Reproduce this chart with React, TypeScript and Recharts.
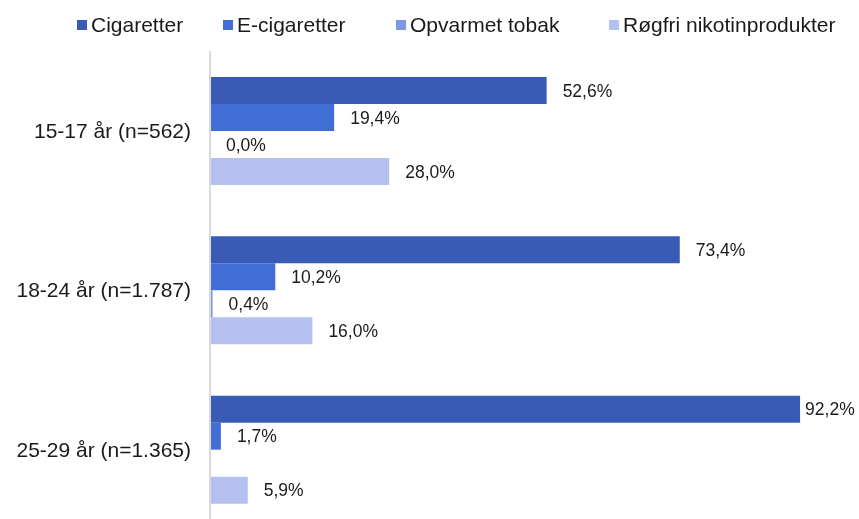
import React from "react";
import { BarChart, Bar, XAxis, YAxis, LabelList, Legend } from "recharts";

const categories = ["15-17 år (n=562)", "18-24 år (n=1.787)", "25-29 år (n=1.365)"];
const cigaretter = [52.6, 73.4, 92.2];
const eCigaretter = [19.4, 10.2, 1.7];
const opvarmetTobak = [0.0, 0.4, null];
const roegfri = [28.0, 16.0, 5.9];

const seriesNames = ["Cigaretter", "E-cigaretter", "Opvarmet tobak", "Røgfri nikotinprodukter"];
const seriesKeys = ["cig", "ecig", "opv", "rog"];
const COLORS = ["#3A5BB5", "#416DD6", "#7B97E6", "#B4C1F0"];

const data = categories.map((name, i) => ({
  name,
  cig: cigaretter[i],
  ecig: eCigaretter[i],
  opv: opvarmetTobak[i],
  rog: roegfri[i],
}));

const FONT = '"Liberation Sans", Arial, sans-serif';
const legendX = [77, 223, 396, 609];
const CHART_W = 859;

const fmt = (v: any) => (v === null || v === undefined ? "" : Number(v).toFixed(1).replace(".", ",") + "%");

// label to the right of the bar, pulled in if it would run off the edge
const renderLabel = (props: any) => {
  const { x, y, width, height, value } = props;
  if (value === null || value === undefined) return null;
  const text = fmt(value);
  const estW = text.length * 9.6;
  let tx = x + width + 16;
  if (tx + estW > CHART_W - 6) tx = x + width + 5;
  return (
    <text
      x={tx}
      y={y + height / 2}
      dominantBaseline="central"
      style={{ fontSize: 17.5, fill: "#1a1a1a", fontFamily: FONT }}
    >
      {text}
    </text>
  );
};

const CustomLegend = () => (
  <div style={{ position: "relative", width: CHART_W, height: 40, fontFamily: FONT }}>
    {seriesNames.map((name, i) => (
      <div key={name} style={{ position: "absolute", left: legendX[i], top: 13, display: "flex", alignItems: "center" }}>
        <span style={{ display: "inline-block", width: 10, height: 10, background: COLORS[i], marginRight: 4 }} />
        <span style={{ fontSize: 21, color: "#1a1a1a", lineHeight: "24px" }}>{name}</span>
      </div>
    ))}
  </div>
);

const App = () => {
  return (
    <div style={{ position: "fixed", top: 0, left: 0, width: CHART_W, height: 519, overflow: "hidden" }}>
      <BarChart
        width={CHART_W}
        height={540}
        data={data}
        layout="vertical"
        margin={{ top: 11, right: 9, bottom: 11, left: 0 }}
        barGap={0}
        barSize={27}
      >
        <Legend verticalAlign="top" align="left" content={<CustomLegend />} wrapperStyle={{ top: 0, left: 0 }} />
        <XAxis type="number" domain={[0, 100]} hide />
        <YAxis
          type="category"
          dataKey="name"
          width={210}
          axisLine={{ stroke: "#D9D9D9", strokeWidth: 2 }}
          tickLine={false}
          tickSize={0}
          tickMargin={19}
          tick={{ fontSize: 21, fill: "#1a1a1a", fontFamily: FONT }}
        />
        {seriesKeys.map((k, i) => (
          <Bar
            key={k}
            dataKey={k}
            name={seriesNames[i]}
            fill={COLORS[i]}
            minPointSize={(v: any) => (v === 0 ? 0.01 : 0)}
            isAnimationActive={false}
          >
            <LabelList dataKey={k} content={renderLabel} />
          </Bar>
        ))}
      </BarChart>
    </div>
  );
};

export default App;
